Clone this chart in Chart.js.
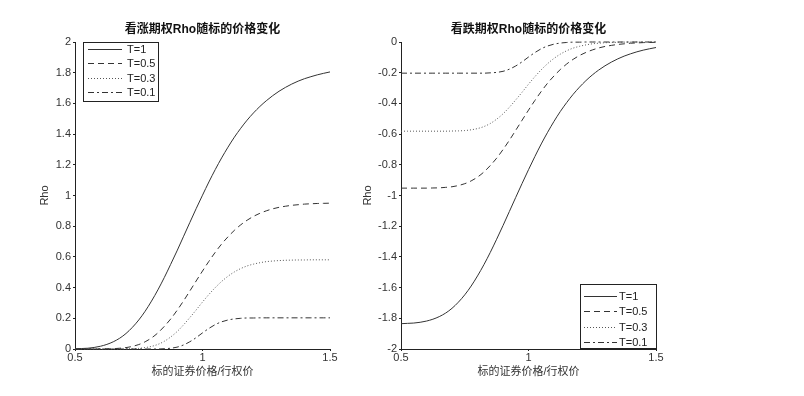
<!DOCTYPE html>
<html>
<head>
<meta charset="utf-8">
<script src="https://cdn.jsdelivr.net/npm/chart.js@4.4.1/dist/chart.umd.min.js"></script>
<style>
  body { margin: 0; background: #fff; }
  #wrap { position: relative; width: 804px; height: 396px; }
  #wrap canvas { position: absolute; left: 0; top: 0; }
</style>
</head>
<body>
<div id="wrap">
  <canvas id="callChart" width="804" height="396"></canvas>
  <canvas id="putChart" width="804" height="396"></canvas>
</div>
<script>
// ---- data ----
const strikeRatio = [0.5, 0.525, 0.55, 0.575, 0.6, 0.625, 0.65, 0.675, 0.7, 0.725, 0.75, 0.775, 0.8, 0.825, 0.85, 0.875, 0.9, 0.925, 0.95, 0.975,
  1, 1.025, 1.05, 1.075, 1.1, 1.125, 1.15, 1.175, 1.2, 1.225, 1.25, 1.275, 1.3, 1.325, 1.35, 1.375, 1.4, 1.425, 1.45, 1.475, 1.5];

const seriesLabels = ['T=1', 'T=0.5', 'T=0.3', 'T=0.1'];

// call rho
const callT1 = [0.001, 0.003, 0.005, 0.010, 0.018, 0.030, 0.047, 0.070, 0.101, 0.141, 0.189, 0.246, 0.312, 0.385, 0.465, 0.551, 0.639, 0.731, 0.823, 0.914,
  1.002, 1.088, 1.169, 1.245, 1.315, 1.380, 1.438, 1.491, 1.538, 1.580, 1.617, 1.650, 1.679, 1.704, 1.726, 1.745, 1.761, 1.774, 1.786, 1.796, 1.805];
const callT05 = [0, 0, 0, 0, 0, 0.001, 0.002, 0.005, 0.009, 0.017, 0.029, 0.047, 0.072, 0.105, 0.147, 0.195, 0.251, 0.312, 0.377, 0.443,
  0.508, 0.571, 0.630, 0.684, 0.731, 0.773, 0.809, 0.839, 0.864, 0.884, 0.900, 0.913, 0.923, 0.930, 0.936, 0.940, 0.944, 0.946, 0.948, 0.949, 0.950];
const callT03 = [0, 0, 0, 0, 0, 0, 0, 0, 0.001, 0.002, 0.004, 0.009, 0.017, 0.030, 0.050, 0.078, 0.113, 0.156, 0.204, 0.254,
  0.306, 0.355, 0.400, 0.440, 0.474, 0.502, 0.524, 0.541, 0.553, 0.562, 0.569, 0.573, 0.576, 0.578, 0.579, 0.580, 0.580, 0.581, 0.581, 0.581, 0.581];
const callT01 = [0, 0, 0, 0, 0, 0, 0, 0, 0, 0, 0, 0, 0, 0, 0.002, 0.005, 0.012, 0.026, 0.047, 0.074,
  0.105, 0.134, 0.159, 0.177, 0.189, 0.196, 0.200, 0.202, 0.202, 0.203, 0.203, 0.203, 0.203, 0.203, 0.203, 0.203, 0.203, 0.203, 0.203, 0.203, 0.203];

// put rho
const putT1 = [-1.835, -1.833, -1.831, -1.826, -1.818, -1.806, -1.789, -1.766, -1.735, -1.695, -1.647, -1.590, -1.524, -1.451, -1.371, -1.285, -1.196, -1.104, -1.012, -0.921,
  -0.832, -0.746, -0.664, -0.588, -0.517, -0.452, -0.394, -0.341, -0.294, -0.252, -0.215, -0.183, -0.155, -0.131, -0.110, -0.092, -0.077, -0.064, -0.053, -0.044, -0.036];
const putT05 = [-0.952, -0.952, -0.952, -0.952, -0.952, -0.951, -0.950, -0.947, -0.943, -0.935, -0.923, -0.905, -0.880, -0.847, -0.805, -0.757, -0.701, -0.640, -0.575, -0.509,
  -0.444, -0.381, -0.322, -0.268, -0.221, -0.179, -0.143, -0.113, -0.088, -0.068, -0.052, -0.039, -0.029, -0.022, -0.016, -0.012, -0.008, -0.006, -0.004, -0.003, -0.002];
const putT03 = [-0.581, -0.581, -0.581, -0.581, -0.581, -0.581, -0.581, -0.581, -0.580, -0.579, -0.577, -0.572, -0.564, -0.551, -0.531, -0.503, -0.468, -0.425, -0.377, -0.327,
  -0.275, -0.226, -0.181, -0.141, -0.107, -0.079, -0.057, -0.040, -0.028, -0.019, -0.012, -0.008, -0.005, -0.003, -0.002, -0.001, -0.001, 0, 0, 0, 0];
const putT01 = [-0.203, -0.203, -0.203, -0.203, -0.203, -0.203, -0.203, -0.203, -0.203, -0.203, -0.203, -0.203, -0.203, -0.203, -0.201, -0.198, -0.191, -0.177, -0.156, -0.129,
  -0.098, -0.069, -0.044, -0.026, -0.014, -0.007, -0.003, -0.001, -0.001, 0, 0, 0, 0, 0, 0, 0, 0, 0, 0, 0, 0];

const xTicks = [0.5, 1, 1.5];
const callYRange = [0, 2];
const putYRange = [-2, 0];

// ---- styles ----
const FONT = "'Liberation Sans', 'Noto Sans CJK SC', sans-serif";
const lineColors = ['#333', '#333', '#555', '#333'];
const lineDashes = [[], [6, 4], [1, 2], [6, 3, 2, 3]];

Chart.defaults.font.family = FONT;
Chart.defaults.font.size = 11;
Chart.defaults.color = '#333';

// MATLAB-like legend box drawn inside the axes
const boxLegend = {
  id: 'boxLegend',
  afterDraw(chart, args, opts) {
    const { ctx, chartArea } = chart;
    const bx = opts.fromRight ? chartArea.right - opts.w + opts.dx : chartArea.left + opts.dx;
    const by = opts.fromBottom ? chartArea.bottom - opts.h + opts.dy : chartArea.top + opts.dy;
    ctx.save();
    ctx.fillStyle = '#fff';
    ctx.fillRect(bx, by, opts.w, opts.h);
    ctx.strokeStyle = '#222';
    ctx.lineWidth = 1;
    ctx.setLineDash([]);
    ctx.strokeRect(bx + 0.5, by + 0.5, opts.w, opts.h);
    ctx.font = '11px ' + FONT;
    ctx.textBaseline = 'middle';
    ctx.textAlign = 'left';
    chart.data.datasets.forEach((ds, i) => {
      const y = Math.round(by + opts.firstRow + i * opts.rowGap) + 0.5;
      ctx.strokeStyle = ds.borderColor;
      ctx.setLineDash(ds.borderDash || []);
      ctx.beginPath();
      ctx.moveTo(bx + opts.lineFrom, y);
      ctx.lineTo(bx + opts.lineTo, y);
      ctx.stroke();
      ctx.fillStyle = '#222';
      ctx.fillText(ds.label, bx + opts.textX, y);
    });
    ctx.restore();
  }
};

const fmt = v => String(+Number(v).toFixed(2));

function buildChart(canvasId, cfg) {
  const ctx = document.getElementById(canvasId).getContext('2d');
  return new Chart(ctx, {
    type: 'line',
    data: {
      datasets: seriesLabels.map((label, i) => ({
        label,
        data: strikeRatio.map((x, j) => ({ x, y: cfg.series[i][j] })),
        borderColor: lineColors[i],
        borderDash: lineDashes[i],
        borderWidth: 1,
        pointRadius: 0,
        fill: false,
        clip: false,
        cubicInterpolationMode: 'monotone'
      }))
    },
    options: {
      responsive: false,
      animation: false,
      events: [],
      layout: { padding: cfg.padding },
      scales: {
        x: {
          type: 'linear',
          min: xTicks[0],
          max: xTicks[xTicks.length - 1],
          afterBuildTicks: scale => { scale.ticks = xTicks.map(v => ({ value: v })); },
          afterFit: scale => { scale.height = 30; },
          ticks: { callback: fmt, padding: 0, maxRotation: 0, color: '#333' },
          grid: { drawOnChartArea: false, tickLength: 2, color: '#222' },
          border: { display: true, color: '#222', width: 1 },
          title: { display: true, text: '标的证券价格/行权价', font: { size: 11 }, padding: 0, color: '#333' }
        },
        y: {
          min: cfg.yRange[0],
          max: cfg.yRange[1],
          afterFit: scale => { scale.width = cfg.yAxisWidth; },
          ticks: { stepSize: 0.2, callback: fmt, padding: 2, autoSkip: false, color: '#333' },
          grid: { drawOnChartArea: false, tickLength: 2, color: '#222' },
          border: { display: true, color: '#222', width: 1 },
          title: { display: true, text: 'Rho', font: { size: 11 }, padding: 0, color: '#333' }
        }
      },
      plugins: {
        legend: { display: false },
        tooltip: { enabled: false },
        title: {
          display: true,
          fullSize: false,
          text: cfg.title,
          color: '#111',
          font: { size: 12, weight: 'bold' },
          padding: { top: 22.8, bottom: 4.8 }
        },
        boxLegend: cfg.legendBox
      }
    },
    plugins: [boxLegend]
  });
}

buildChart('callChart', {
  title: '看涨期权Rho随标的价格变化',
  series: [callT1, callT05, callT03, callT01],
  yRange: callYRange,
  yAxisWidth: 36.6,
  padding: { left: 38.4, right: 474, top: 0, bottom: 17 },
  legendBox: { fromRight: false, fromBottom: false, dx: 8, dy: 0, w: 75, h: 59, firstRow: 7, rowGap: 14.4, lineFrom: 5, lineTo: 39, textX: 44 }
});

buildChart('putChart', {
  title: '看跌期权Rho随标的价格变化',
  series: [putT1, putT05, putT03, putT01],
  yRange: putYRange,
  yAxisWidth: 39.6,
  padding: { left: 361.4, right: 148, top: 0, bottom: 17 },
  legendBox: { fromRight: true, fromBottom: true, dx: 0, dy: -1, w: 76, h: 64, firstRow: 12, rowGap: 15.3, lineFrom: 4, lineTo: 37, textX: 39 }
});
</script>
</body>
</html>
